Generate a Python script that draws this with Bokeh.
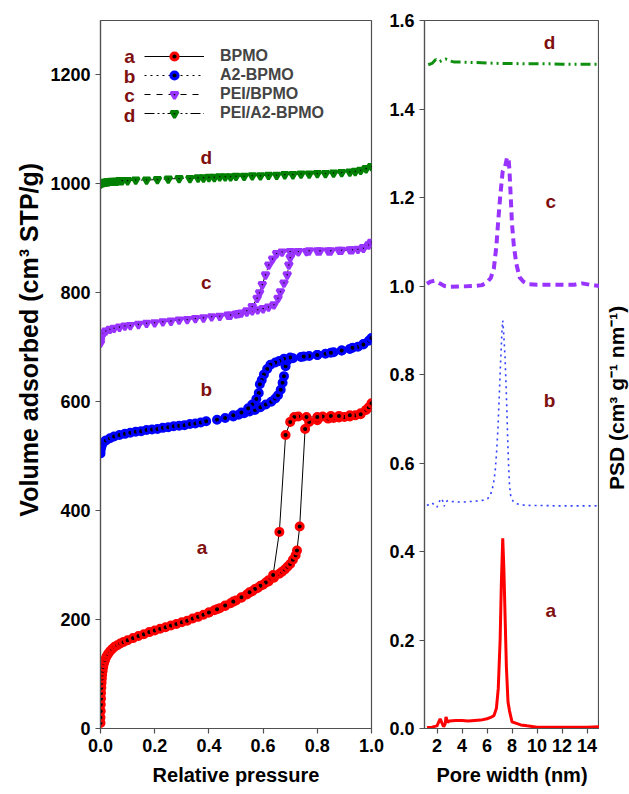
import math
from bokeh.plotting import figure
from bokeh.models import (FixedTicker, Legend, LegendItem, Range1d,
                          NumeralTickFormatter)
from bokeh.layouts import row
from bokeh.embed import file_html
from bokeh.resources import INLINE
from bokeh.core.properties import value

FONT = "Liberation Sans"
DARKRED = "#801010"
AXC = "#505050"
TOP, BOTTOM = 20, 66

# ---------------- Isotherm data (Relative pressure, Volume adsorbed) ----------------
a_ads_x = [0.000, 0.000, 0.001, 0.001, 0.002, 0.002, 0.003, 0.004, 0.005, 0.006, 0.008, 0.010,
           0.013, 0.017, 0.022, 0.028, 0.035, 0.043, 0.052, 0.062, 0.073, 0.085, 0.10, 0.12,
           0.14, 0.16, 0.18, 0.20, 0.22, 0.24, 0.26, 0.28, 0.30, 0.32, 0.34, 0.36, 0.38, 0.40,
           0.42, 0.44, 0.46, 0.48, 0.50, 0.52, 0.54, 0.56, 0.58, 0.60, 0.62, 0.64, 0.66, 0.67,
           0.68, 0.69, 0.70, 0.71, 0.72, 0.725, 0.735, 0.755, 0.77, 0.80, 0.84, 0.86, 0.88,
           0.90, 0.92, 0.94, 0.96, 0.98, 0.99, 1.00]
a_ads_y = [10, 20, 32, 44, 55, 65, 75, 84, 92, 99, 106, 113,
           120, 126, 132, 137, 142, 146, 150, 153, 156, 159, 162, 166,
           170, 173, 177, 180, 183, 186, 189, 192, 195, 198, 202, 205, 209, 213,
           217, 221, 225, 230, 235, 240, 246, 252, 258, 264, 270, 277, 284, 288,
           292, 297, 302, 310, 318, 327, 371, 550, 563, 566, 569, 570, 571,
           572, 573, 575, 579, 585, 590, 597]
a_des_x = [0.96, 0.92, 0.88, 0.85, 0.82, 0.80, 0.76, 0.73, 0.715, 0.70, 0.683, 0.66, 0.637,
           0.62, 0.61, 0.59, 0.57, 0.55, 0.52, 0.49, 0.46, 0.43, 0.40]
a_des_y = [577, 575, 574, 574, 573, 572, 572, 573, 572, 563, 539, 361, 282,
           272, 268, 262, 256, 250, 241, 233, 226, 219, 213]

b_ads_x = [0.000, 0.000, 0.002, 0.005, 0.010, 0.020, 0.035, 0.050, 0.07, 0.09, 0.11, 0.13,
           0.15, 0.17, 0.19, 0.21, 0.23, 0.25, 0.27, 0.29, 0.31, 0.33, 0.35, 0.37, 0.39,
           0.43, 0.46, 0.49, 0.51, 0.53, 0.55, 0.57, 0.59, 0.61, 0.63, 0.645, 0.655, 0.665,
           0.672, 0.677, 0.683, 0.69, 0.71, 0.74, 0.77, 0.80, 0.83, 0.86, 0.89, 0.92, 0.95,
           0.97, 0.99, 1.00]
b_ads_y = [505, 510, 515, 520, 525, 529, 533, 536, 539, 541, 543, 545,
           546, 548, 549, 550, 552, 553, 555, 556, 557, 559, 560, 562, 564,
           567, 570, 573, 576, 579, 582, 585, 590, 595, 600, 606, 612, 622,
           635, 647, 665, 676, 680, 682, 684, 686, 688, 691, 694, 697, 701,
           706, 712, 717]
b_des_x = [0.97, 0.93, 0.89, 0.85, 0.80, 0.75, 0.70, 0.677, 0.66, 0.645, 0.627, 0.615, 0.603,
           0.595, 0.588, 0.584, 0.575, 0.56, 0.545, 0.52, 0.49]
b_des_y = [705, 699, 694, 690, 686, 683, 681, 679, 675, 672, 668, 660, 650,
           640, 632, 616, 605, 595, 588, 580, 575]

c_ads_x = [0.000, 0.000, 0.002, 0.005, 0.010, 0.020, 0.035, 0.05, 0.07, 0.09, 0.11, 0.14,
           0.17, 0.20, 0.23, 0.26, 0.29, 0.32, 0.35, 0.38, 0.41, 0.44, 0.47, 0.50, 0.52,
           0.54, 0.56, 0.58, 0.60, 0.62, 0.64, 0.655, 0.664, 0.677, 0.689, 0.695, 0.70, 0.71,
           0.73, 0.76, 0.80, 0.84, 0.88, 0.92, 0.95, 0.97, 0.99, 1.00]
c_ads_y = [708, 713, 718, 722, 726, 730, 733, 735, 737, 739, 740, 742,
           744, 745, 747, 748, 750, 751, 753, 754, 756, 757, 759, 761, 763,
           765, 767, 769, 771, 774, 778, 790, 802, 818, 833, 851, 865, 874,
           876, 876, 877, 877, 878, 879, 880, 883, 888, 893]
c_des_x = [0.97, 0.93, 0.89, 0.85, 0.81, 0.77, 0.73, 0.70, 0.67, 0.65, 0.635, 0.621, 0.609,
           0.597, 0.587, 0.578, 0.56, 0.54, 0.51, 0.48]
c_des_y = [882, 879, 878, 877, 877, 877, 876, 876, 875, 872, 862, 851, 833,
           815, 800, 790, 775, 767, 762, 759]

d_x = [0.000, 0.002, 0.005, 0.010, 0.015, 0.020, 0.025, 0.030, 0.040, 0.050, 0.060, 0.070,
       0.080, 0.10, 0.13, 0.17, 0.21, 0.25, 0.29, 0.33, 0.36, 0.38, 0.40, 0.42, 0.44, 0.46,
       0.48, 0.50, 0.53, 0.56, 0.59, 0.62, 0.65, 0.68, 0.71, 0.74, 0.77, 0.80, 0.83, 0.86,
       0.89, 0.92, 0.94, 0.96, 0.98, 1.00]
d_y = [1000, 1001, 1002, 1002, 1003, 1003, 1004, 1004, 1005, 1005, 1005, 1006,
       1006, 1006, 1007, 1007, 1008, 1009, 1010, 1010, 1011, 1011, 1012, 1012, 1013, 1013,
       1013, 1014, 1014, 1015, 1015, 1016, 1016, 1017, 1017, 1018, 1018, 1019, 1019, 1020,
       1021, 1022, 1023, 1025, 1028, 1032]

# ---------------- PSD data (Pore width nm, PSD) ----------------
psd_a_x = [1.2, 1.6, 2.0, 2.25, 2.4, 2.53, 2.65, 2.72, 2.85, 3.0, 3.5, 4.0, 4.5, 5.0, 5.5, 6.0,
           6.3, 6.55, 6.75, 6.9, 7.05, 7.15, 7.26, 7.35, 7.45, 7.55, 7.68, 7.8, 8.0, 8.3, 8.7,
           9.2, 10.0, 11.0, 12.0, 13.0, 14.0, 15.0]
psd_a_y = [0.002, 0.003, 0.006, 0.022, 0.012, 0.004, 0.010, 0.026, 0.014, 0.017, 0.018, 0.018,
           0.017, 0.018, 0.019, 0.022, 0.025, 0.029, 0.045, 0.09, 0.20, 0.33, 0.43, 0.36, 0.25,
           0.14, 0.06, 0.04, 0.015, 0.012, 0.008, 0.006, 0.003, 0.003, 0.003, 0.003, 0.003, 0.004]
psd_b_x = [1.2, 1.6, 2.0, 2.3, 2.45, 2.58, 2.7, 2.86, 3.2, 3.7, 4.2, 4.7, 5.2, 5.7, 6.05, 6.3,
           6.5, 6.65, 6.78, 6.88, 6.98, 7.06, 7.14, 7.2, 7.26, 7.32, 7.38, 7.44, 7.52, 7.6, 7.66,
           7.72, 7.8, 7.9, 8.1, 8.4, 8.8, 9.5, 10.5, 11.5, 12.5, 13.5, 14.5, 15.0]
psd_b_y = [0.504, 0.510, 0.500, 0.520, 0.515, 0.502, 0.512, 0.515, 0.513, 0.512, 0.512, 0.513,
           0.514, 0.516, 0.519, 0.530, 0.550, 0.580, 0.630, 0.680, 0.750, 0.810, 0.860, 0.900,
           0.922, 0.900, 0.870, 0.840, 0.780, 0.710, 0.650, 0.600, 0.550, 0.525, 0.513, 0.508,
           0.505, 0.504, 0.504, 0.503, 0.503, 0.503, 0.503, 0.504]
psd_c_x = [1.2, 1.5, 1.8, 2.2, 2.6, 3.0, 4.0, 5.0, 5.6, 6.0, 6.3, 6.55, 6.75, 6.9, 7.05, 7.25,
           7.45, 7.6, 7.72, 7.8, 7.9, 8.0, 8.15, 8.35, 8.6, 8.9, 9.3, 10.0, 11.0, 12.0, 13.0,
           13.6, 14.2, 15.0]
psd_c_y = [1.005, 1.010, 1.012, 1.006, 1.000, 0.998, 0.999, 1.000, 1.002, 1.008, 1.018, 1.040,
           1.090, 1.148, 1.200, 1.258, 1.270, 1.290, 1.290, 1.260, 1.200, 1.140, 1.090, 1.050,
           1.020, 1.010, 1.004, 1.003, 1.003, 1.003, 1.003, 1.006, 1.003, 1.000]
psd_d_x = [1.3, 1.6, 1.9, 2.2, 2.5, 2.7, 3.0, 3.4, 4.0, 5.0, 6.0, 7.0, 8.0, 9.0, 10.0, 11.0,
           12.0, 13.0, 14.0, 15.0]
psd_d_y = [1.500, 1.503, 1.512, 1.507, 1.511, 1.513, 1.509, 1.506, 1.506, 1.505, 1.504, 1.503,
           1.503, 1.502, 1.502, 1.502, 1.501, 1.501, 1.501, 1.501]

series_names = ["BPMO", "A2-BPMO", "PEI/BPMO", "PEI/A2-BPMO"]
series_letters = ["a", "b", "c", "d"]
iso_colors = ["#FF0000", "#0000FF", "#9933FF", "#008000"]
iso_markers = ["circle", "circle", "inverted_triangle", "inverted_triangle"]
iso_dashes = ["solid", "dotted", "dashed", "10 3 2 3 2 3"]
psd_colors = ["#FF0000", "#3040FF", "#9933FF", "#109010"]

# curve label positions (data coords)
iso_label_x = [0.375, 0.39, 0.39, 0.39]
iso_label_y = [332, 623, 819, 1048]
psd_label_x = [11.1, 11.0, 11.1, 11.0]
psd_label_y = [0.267, 0.741, 1.19, 1.55]
legend_letter_x = [0.107, 0.107, 0.107, 0.107]
legend_letter_y = [1233, 1197, 1162, 1126]

NBSP = "\u00a0"
# padding (non-breaking spaces) shifts the titles along the axis like the reference
YLABEL_LEFT = NBSP * 10 + "Volume adsorbed (cm\u00b3 STP/g)"
YLABEL_RIGHT = "PSD (cm\u00b3 g\u207b\u00b9 nm\u207b\u00b9)" + NBSP * 8


def style_axes(p):
    for ax in p.axis:
        ax.axis_line_color = AXC
        ax.axis_line_width = 1.2
        ax.major_tick_line_color = AXC
        ax.major_tick_line_width = 1.2
        ax.major_tick_in = 0
        ax.major_tick_out = 5
        ax.minor_tick_line_color = None
        ax.major_label_text_font = FONT
        ax.major_label_text_font_style = "bold"
        ax.major_label_text_font_size = "18px"
        ax.major_label_text_color = "black"
        ax.axis_label_text_font = FONT
        ax.axis_label_text_font_style = "bold"
        ax.axis_label_text_font_size = "20px"
        ax.axis_label_text_color = "black"
        ax.axis_label_standoff = 9
    p.grid.visible = False
    p.outline_line_color = AXC
    p.outline_line_width = 1.2


# ---------------- Left panel ----------------
p1 = figure(width=386, height=794, output_backend="svg", toolbar_location=None,
            x_range=Range1d(0, 1), y_range=Range1d(0, 1300),
            min_border_left=100, min_border_right=15, min_border_top=TOP,
            min_border_bottom=BOTTOM)
p1.xaxis.ticker = FixedTicker(ticks=[0.0, 0.2, 0.4, 0.6, 0.8, 1.0])
p1.xaxis.formatter = NumeralTickFormatter(format="0.0")
p1.yaxis.ticker = FixedTicker(ticks=[0, 200, 400, 600, 800, 1000, 1200])
p1.xaxis.axis_label = "Relative pressure"
p1.yaxis.axis_label = YLABEL_LEFT
style_axes(p1)
p1.yaxis.axis_label_text_font_size = "25px"
p1.yaxis.axis_label_standoff = 4

iso_x = [a_ads_x + a_des_x, b_ads_x + b_des_x, c_ads_x + c_des_x, d_x]
iso_y = [a_ads_y + a_des_y, b_ads_y + b_des_y, c_ads_y + c_des_y, d_y]

items = []
for i in range(4):
    lr = p1.line(iso_x[i], iso_y[i], line_color="black", line_width=1,
                 line_dash=iso_dashes[i])
    sr = p1.scatter(iso_x[i], iso_y[i], marker=iso_markers[i], size=7,
                    fill_color="black", line_color=iso_colors[i], line_width=3)
    items.append(LegendItem(label=series_names[i], renderers=[lr, sr]))

legend = Legend(items=items, location=(44, 606), orientation="vertical",
                glyph_width=60, glyph_height=18, label_height=18, spacing=1,
                label_standoff=16, padding=0, margin=0,
                border_line_alpha=0, background_fill_alpha=0,
                label_text_font=FONT, label_text_font_style="bold",
                label_text_font_size="16px")
p1.add_layout(legend)

p1.text(x=legend_letter_x, y=legend_letter_y, text=series_letters,
        text_font=value(FONT), text_font_style="bold", text_font_size="19px",
        text_color=DARKRED, text_align="center", text_baseline="middle")
p1.text(x=iso_label_x, y=iso_label_y, text=series_letters,
        text_font=value(FONT), text_font_style="bold", text_font_size="19px",
        text_color=DARKRED, text_align="center", text_baseline="middle")

# ---------------- Right panel ----------------
p2 = figure(width=213, height=794, output_backend="svg", toolbar_location=None,
            x_range=Range1d(1, 15), y_range=Range1d(0, 1.6),
            min_border_left=37, min_border_right=0, min_border_top=TOP,
            min_border_bottom=BOTTOM)
p2.xaxis.ticker = FixedTicker(ticks=[2, 4, 6, 8, 10, 12, 14])
p2.yaxis.ticker = FixedTicker(ticks=[0.0, 0.2, 0.4, 0.6, 0.8, 1.0, 1.2, 1.4, 1.6])
p2.yaxis.formatter = NumeralTickFormatter(format="0.0")
p2.xaxis.axis_label = "Pore width (nm)"
style_axes(p2)

psd_x = [psd_a_x, psd_b_x, psd_c_x, psd_d_x]
psd_y = [psd_a_y, psd_b_y, psd_c_y, psd_d_y]
psd_widths = [3, 1.6, 4, 3]
psd_dashes = ["solid", "2 4", "8 5", "10 4 2 4 2 4"]
for i in range(4):
    p2.line(psd_x[i], psd_y[i], line_color=psd_colors[i], line_width=psd_widths[i],
            line_dash=psd_dashes[i])

p2.text(x=psd_label_x, y=psd_label_y, text=series_letters,
        text_font=value(FONT), text_font_style="bold", text_font_size="19px",
        text_color=DARKRED, text_align="center", text_baseline="middle")

# ---------------- Right title strip (vertical title reading bottom-to-top) ----------------
p3 = figure(width=30, height=794, output_backend="svg", toolbar_location=None,
            x_range=Range1d(0, 1), y_range=Range1d(0, 1), x_axis_location=None,
            min_border_left=29, min_border_right=0, min_border_top=TOP,
            min_border_bottom=BOTTOM)
p3.grid.visible = False
p3.outline_line_color = None
ax3 = p3.yaxis[0]
ax3.ticker = FixedTicker(ticks=[])
ax3.axis_line_color = None
ax3.major_tick_line_color = None
ax3.minor_tick_line_color = None
ax3.major_tick_out = 0
ax3.major_label_text_font_size = "0px"
ax3.axis_label = YLABEL_RIGHT
ax3.axis_label_text_font = FONT
ax3.axis_label_text_font_style = "bold"
ax3.axis_label_text_font_size = "21px"
ax3.axis_label_text_color = "black"
ax3.axis_label_standoff = 1

layout = row(p1, p2, p3)
open("out.html", "w").write(file_html(layout, INLINE))
